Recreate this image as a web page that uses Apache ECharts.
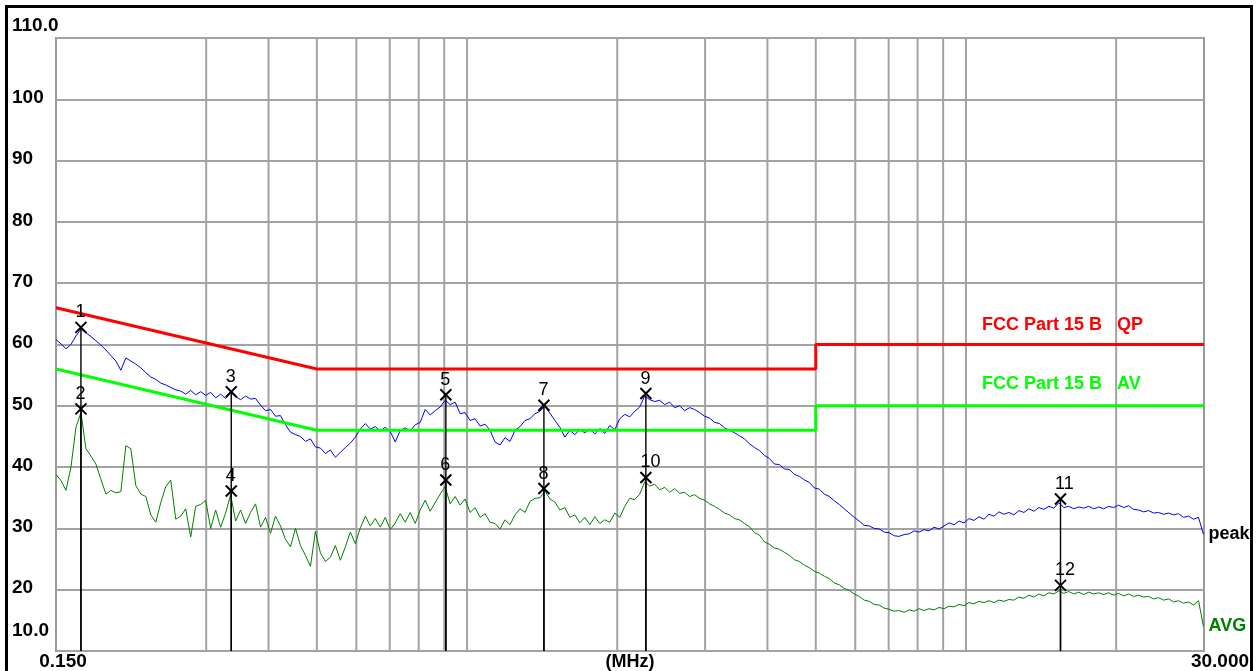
<!DOCTYPE html>
<html>
<head>
<meta charset="utf-8">
<title>Conducted emission 0.15 - 30 MHz</title>
<script src="https://cdn.jsdelivr.net/npm/echarts@6/dist/echarts.min.js"></script>
<style>
  html, body { margin: 0; padding: 0; background: #fff; }
  #chart { width: 1256px; height: 671px; }
</style>
</head>
<body>
<div id="chart"></div>
<script>
// Receiver sweep: 100 points per decade starting at 0.150 MHz
const SWEEP_START_MHZ = 0.15;
const POINTS_PER_DECADE = 100;

// Peak detector trace, dBuV
const PEAK = [
  60.8, 60.1, 59.3, 60.0, 61.4, 62.5, 61.9, 61.3, 60.6, 59.9,
  59.1, 58.2, 57.3, 55.8, 57.8, 57.3, 56.8, 56.2, 55.4, 54.7,
  54.3, 53.7, 53.4, 53.0, 52.6, 52.4, 51.9, 52.5, 51.8, 52.3,
  51.7, 52.2, 51.3, 51.9, 51.2, 52.2, 51.5, 51.0, 51.6, 51.1,
  51.2, 50.1, 49.2, 49.4, 48.3, 48.4, 46.9, 45.7, 45.3, 45.0,
  44.2, 44.6, 43.3, 43.1, 42.2, 42.8, 41.6, 42.4, 43.2, 43.9,
  44.9, 46.2, 47.1, 46.2, 46.6, 45.9, 46.5, 45.8, 44.1, 46.0,
  46.4, 45.9, 46.9, 47.3, 49.4, 48.5, 49.2, 49.8, 50.9, 50.2,
  50.6, 48.7, 48.9, 47.6, 47.9, 46.7, 47.0, 46.0, 44.1, 43.6,
  44.8, 44.2, 46.0, 46.6, 47.6, 47.9, 48.7, 49.1, 50.0, 48.8,
  47.6, 46.5, 44.9, 46.0, 45.3, 46.1, 45.6, 46.2, 45.4, 46.3,
  45.5, 46.8, 46.1, 47.9, 48.6, 48.2, 49.1, 49.8, 51.6, 51.0,
  50.7, 50.9, 50.2, 50.6, 49.7, 50.0, 49.2, 49.7, 49.4, 48.9,
  48.3, 48.0, 47.3, 47.1, 46.4, 46.0, 45.6, 45.1, 44.6, 43.8,
  43.2, 42.7, 41.9, 41.4, 40.5, 40.4, 39.7, 39.6, 38.8, 38.5,
  37.9, 37.5, 36.6, 36.4, 35.6, 35.2, 34.5, 33.9, 33.2, 32.5,
  31.8, 31.2, 30.5, 30.4, 30.0, 29.9, 29.4, 29.3, 28.8, 28.7,
  29.0, 29.1, 29.6, 29.4, 29.8, 29.6, 30.2, 29.9, 30.4, 30.9,
  30.6, 31.2, 30.9, 31.6, 31.3, 31.9, 31.5, 32.3, 32.0, 32.7,
  32.3, 32.6, 32.2, 32.9, 32.6, 33.2, 32.8, 33.4, 33.1, 33.6,
  33.3, 34.2, 33.4, 33.6, 33.2, 33.5, 33.3, 33.6, 33.2, 33.5,
  33.2, 33.6, 33.4, 33.8, 33.4, 33.7, 33.1, 33.0, 32.7, 32.9,
  32.5, 32.6, 32.3, 32.5, 32.2, 32.4, 31.8, 32.0, 31.5, 31.8,
  29.0
];

// Average detector trace, dBuV
const AVG = [
  38.8, 37.8, 36.2, 40.0, 46.5, 48.9, 43.0, 41.8, 40.5, 38.0,
  35.6, 36.2, 35.8, 36.0, 43.5, 43.0, 37.0, 35.6, 35.2, 32.2,
  31.0, 34.2, 36.8, 37.9, 31.5, 32.0, 33.2, 28.6, 33.6, 33.9,
  34.6, 30.0, 33.0, 30.2, 32.5, 35.5, 31.2, 33.0, 30.8, 32.6,
  34.0, 30.2, 31.8, 29.2, 32.0, 30.4, 28.2, 27.0, 30.0, 27.2,
  25.6, 23.8, 29.5, 26.0, 24.6, 25.3, 27.2, 24.8, 27.0, 29.4,
  27.5, 30.1, 32.0, 30.4, 31.6, 30.2, 31.8, 29.8, 30.9, 32.4,
  31.0, 32.6, 30.8, 33.0, 34.6, 32.8, 34.2, 35.6, 36.8, 34.0,
  35.2, 33.8, 34.8, 32.6, 33.4, 31.8, 32.4, 31.0, 30.8, 29.9,
  31.4, 30.6, 32.2, 33.2, 32.6, 34.4, 34.9, 35.0, 36.1, 34.8,
  34.3, 33.0, 33.4, 31.8, 32.2, 30.9, 31.8, 30.6, 31.9, 30.8,
  31.4, 31.0, 32.5, 31.8, 33.6, 34.9, 34.7, 35.6, 37.6, 36.9,
  37.2, 36.3, 36.7, 35.9, 36.5, 35.7, 35.9, 35.2, 35.5, 34.9,
  34.6, 34.0, 33.6, 33.1, 32.5, 32.2, 31.6, 31.4, 30.8, 30.3,
  29.3, 28.9, 27.8, 27.4, 26.8, 26.6, 26.1, 25.6, 24.9, 24.6,
  24.0, 23.6, 23.0, 22.7, 22.2, 21.8, 21.1, 20.8, 20.2, 19.9,
  19.3, 18.9, 18.3, 18.1, 17.6, 17.5, 17.0, 16.8, 16.5, 16.6,
  16.3, 16.7, 16.5, 16.9, 16.6, 16.9, 16.7, 17.1, 16.9, 17.3,
  17.2, 17.6, 17.4, 17.9, 17.7, 18.1, 17.9, 18.2, 17.9, 18.3,
  18.1, 18.4, 18.3, 18.8, 18.6, 19.1, 18.8, 19.3, 19.0, 19.5,
  19.3, 19.8, 19.4, 19.7, 19.3, 19.6, 19.2, 19.6, 19.3, 19.5,
  19.2, 19.5, 19.1, 19.4, 19.0, 19.3, 18.9, 19.1, 18.8, 18.9,
  18.5, 18.7, 18.3, 18.5, 18.0, 18.2, 17.8, 18.0, 17.5, 18.2,
  14.0
];

// FCC Part 15 B limit lines
const LIMIT_FREQ = [0.15, 0.5, 5, 5, 30];
const QP_LIMIT = [66, 56, 56, 60, 60];
const AV_LIMIT = [56, 46, 46, 50, 50];

// Measurement markers (upper of each pair = peak, lower = average)
const MARKER_NO = [1, 2, 3, 4, 5, 6, 7, 8, 9, 10, 11, 12];
const MARKER_FREQ = [0.1683, 0.1683, 0.3368, 0.3368, 0.9068, 0.9068, 1.4258, 1.4258, 2.2826, 2.2826, 15.47, 15.47];
const MARKER_LEVEL = [62.8, 49.5, 52.3, 36.1, 51.8, 37.9, 50.1, 36.5, 52.0, 38.3, 34.8, 20.7];

// Vertical grid (MHz)
const GRID_FREQ = [0.3, 0.4, 0.5, 0.6, 0.7, 0.8, 0.9, 1, 2, 3, 4, 5, 6, 7, 8, 9, 10, 20];

// Axis
const Y_MIN = 10, Y_MAX = 110, Y_STEP = 10;
const X_MIN = 0.15, X_MAX = 30;
const X_END_LABELS = [0.15, 30];

const FONT = '"Liberation Sans", Arial, Helvetica, sans-serif';

const sweepFreq = i => SWEEP_START_MHZ * Math.pow(10, i / POINTS_PER_DECADE);
const peakData = PEAK.map((v, i) => [sweepFreq(i), v]);
const avgData = AVG.map((v, i) => [sweepFreq(i), v]);
const qpData = LIMIT_FREQ.map((f, i) => [f, QP_LIMIT[i]]);
const avData = LIMIT_FREQ.map((f, i) => [f, AV_LIMIT[i]]);
const markerData = MARKER_FREQ.map((f, i) => [f, MARKER_LEVEL[i], MARKER_NO[i]]);
const gridData = GRID_FREQ.map(f => [f, Y_MIN]);

const chart = echarts.init(document.getElementById('chart'), null, { renderer: 'canvas' });

chart.setOption({
  animation: false,
  backgroundColor: '#ffffff',
  textStyle: { fontFamily: FONT },
  grid: {
    left: 56, top: 38, right: 52, bottom: 20,
    containLabel: false, outerBoundsMode: 'none',
    show: true, borderColor: '#999999', borderWidth: 2, backgroundColor: 'transparent'
  },
  xAxis: {
    type: 'log', logBase: 10, min: X_MIN, max: X_MAX,
    name: '(MHz)', nameLocation: 'middle', nameGap: 2, nameMoveOverlap: false,
    nameTextStyle: { fontFamily: FONT, fontWeight: 'bold', fontSize: 18, color: '#000', verticalAlign: 'top' },
    axisLine: { show: false }, axisTick: { show: false },
    splitLine: { show: false }, minorSplitLine: { show: false },
    axisLabel: {
      customValues: X_END_LABELS,
      margin: 1,
      fontFamily: FONT, fontWeight: 'bold', fontSize: 19, color: '#000',
      formatter: v => (v < 1 ? '{lo|' : '{hi|') + Number(v).toFixed(3) + '}',
      rich: {
        lo: { fontFamily: FONT, fontWeight: 'bold', fontSize: 19, color: '#000', padding: [0, 0, 0, 14] },
        hi: { fontFamily: FONT, fontWeight: 'bold', fontSize: 19, color: '#000', padding: [0, 0, 0, 32] }
      }
    }
  },
  yAxis: {
    type: 'value', min: Y_MIN, max: Y_MAX, interval: Y_STEP,
    axisLine: { show: false }, axisTick: { show: false },
    splitLine: { show: true, lineStyle: { color: '#a3a3a3', width: 2 } },
    axisLabel: {
      align: 'left', margin: 44,
      fontFamily: FONT, fontWeight: 'bold', fontSize: 19, color: '#000',
      formatter: v => v === Y_MAX ? '{top|' + v.toFixed(1) + '}'
                    : v === Y_MIN ? '{bot|' + v.toFixed(1) + '}'
                    : '{mid|' + v + '}',
      rich: {
        top: { fontFamily: FONT, fontWeight: 'bold', fontSize: 19, color: '#000', padding: [0, 0, 25, 0] },
        mid: { fontFamily: FONT, fontWeight: 'bold', fontSize: 19, color: '#000', padding: [0, 0, 3, 0] },
        bot: { fontFamily: FONT, fontWeight: 'bold', fontSize: 19, color: '#000', padding: [0, 0, 40, 0] }
      }
    }
  },
  graphic: [
    { type: 'rect', z: 100, shape: { x: 6.5, y: 6.5, width: 1245, height: 700 },
      style: { fill: 'none', stroke: '#000', lineWidth: 3 } },
    { type: 'text', z: 100, x: 982, y: 325,
      style: { text: 'FCC Part 15 B   QP', fill: '#ff0000', font: 'bold 18px ' + FONT, verticalAlign: 'middle' } },
    { type: 'text', z: 100, x: 982, y: 384,
      style: { text: 'FCC Part 15 B   AV', fill: '#00ff00', font: 'bold 18px ' + FONT, verticalAlign: 'middle' } }
  ],
  series: [
    {
      name: 'grid', type: 'custom', z: 1, silent: true, clip: true,
      data: gridData, encode: { x: 0, y: 1 },
      renderItem: (params, api) => {
        const f = api.value(0);
        const a = api.coord([f, Y_MAX]);
        const b = api.coord([f, Y_MIN]);
        return { type: 'line', shape: { x1: a[0], y1: a[1], x2: b[0], y2: b[1] },
                 style: { stroke: '#a3a3a3', lineWidth: 2 } };
      }
    },
    {
      name: 'peak', type: 'line', z: 2, data: peakData, showSymbol: false, symbol: 'none',
      sampling: null, silent: true,
      lineStyle: { color: '#0000ff', width: 1 },
      endLabel: { show: true, formatter: 'peak', distance: 5, color: '#000',
                  fontFamily: FONT, fontWeight: 'bold', fontSize: 18 }
    },
    {
      name: 'AVG', type: 'line', z: 2, data: avgData, showSymbol: false, symbol: 'none',
      silent: true,
      lineStyle: { color: '#008000', width: 1 },
      endLabel: { show: true, formatter: 'AVG', distance: 5, color: '#008000',
                  fontFamily: FONT, fontWeight: 'bold', fontSize: 18 }
    },
    {
      name: 'QP limit', type: 'line', z: 3, data: qpData, showSymbol: false, symbol: 'none',
      silent: true, lineStyle: { color: '#ff0000', width: 3 }
    },
    {
      name: 'AV limit', type: 'line', z: 3, data: avData, showSymbol: false, symbol: 'none',
      silent: true, lineStyle: { color: '#00ff00', width: 3 }
    },
    {
      name: 'markers', type: 'custom', z: 4, silent: true, clip: false,
      data: markerData, encode: { x: 0, y: 1 },
      renderItem: (params, api) => {
        const f = api.value(0);
        const p = api.coord([f, api.value(1)]);
        const b = api.coord([f, Y_MIN]);
        const s = 5.5;
        return {
          type: 'group',
          children: [
            { type: 'line', shape: { x1: p[0], y1: p[1], x2: b[0], y2: b[1] },
              style: { stroke: '#000', lineWidth: 1.4 } },
            { type: 'line', shape: { x1: p[0] - s, y1: p[1] - s, x2: p[0] + s, y2: p[1] + s },
              style: { stroke: '#000', lineWidth: 2 } },
            { type: 'line', shape: { x1: p[0] + s, y1: p[1] - s, x2: p[0] - s, y2: p[1] + s },
              style: { stroke: '#000', lineWidth: 2 } },
            { type: 'text', x: p[0] - 5.5, y: p[1] - 15,
              style: { text: String(api.value(2)), fill: '#000', font: '18px ' + FONT,
                       align: 'left', verticalAlign: 'middle' } }
          ]
        };
      }
    }
  ]
});
</script>
</body>
</html>
